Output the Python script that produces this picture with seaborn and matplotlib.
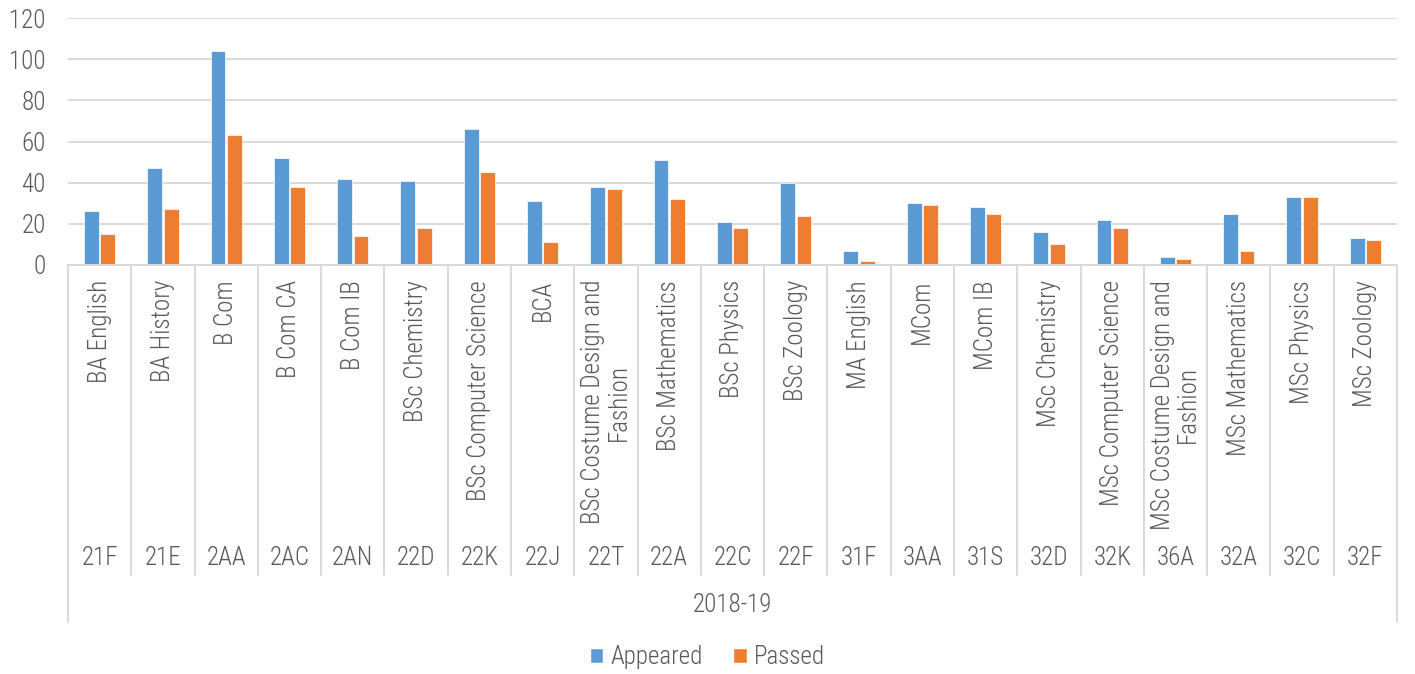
import pandas as pd
import seaborn as sns
import matplotlib.pyplot as plt
import matplotlib.transforms as mtransforms
from matplotlib import font_manager
from matplotlib.textpath import TextPath
from matplotlib.patches import Patch


courses = ['BA English', 'BA History', 'B Com', 'B Com CA', 'B Com IB',
           'BSc Chemistry', 'BSc Computer Science', 'BCA',
           'BSc Costume Design and\nFashion', 'BSc Mathematics', 'BSc Physics',
           'BSc Zoology', 'MA English', 'MCom', 'MCom IB', 'MSc Chemistry',
           'MSc Computer Science', 'MSc Costume Design and\nFashion',
           'MSc Mathematics', 'MSc Physics', 'MSc Zoology']
codes = ['21F', '21E', '2AA', '2AC', '2AN', '22D', '22K', '22J', '22T', '22A',
         '22C', '22F', '31F', '3AA', '31S', '32D', '32K', '36A', '32A', '32C', '32F']
appeared = [26, 47, 104, 52, 42, 41, 66, 31, 38, 51, 21, 40, 7, 30, 28, 16, 22, 4, 25, 33, 13]
passed = [15, 27, 63, 38, 14, 18, 45, 11, 37, 32, 18, 24, 2, 29, 25, 10, 18, 3, 7, 33, 12]
year = '2018-19'
series = ['Appeared', 'Passed']
colors = ['#5B9BD5', '#ED7D31']


def pick_font():
	# look for a narrow sans face, else plain Liberation Sans
	files = [f.fname for f in font_manager.fontManager.ttflist]
	for key in ['LiberationSansNarrow-Regular', 'RobotoCondensed-Light',
				'RobotoCondensed-Regular', 'DejaVuSansCondensed.', 'LiberationSans-Regular']:
		for f in files:
			if key.lower() in f.lower().replace('_', ''):
				return font_manager.FontProperties(fname=f)
	return font_manager.FontProperties(family='DejaVu Sans')


def data_prep():
	df = pd.DataFrame({'Course': courses, 'Appeared': appeared, 'Passed': passed})
	return df.melt(id_vars='Course', var_name='Series', value_name='Count')


def myplot():
	sns.set_style('white')
	fp = pick_font()
	# scale size so a long label has the reference length (~224 px)
	w = TextPath((0, 0), 'MSc Computer Science', size=18, prop=fp).get_extents().width
	fs = min(18, 18 * 224 / (w * 100 / 72))
	fp.set_size(fs)

	txt = '#595959'
	grid = '#D9D9D9'
	W, H = 1415, 674
	fig = plt.figure(figsize=(W / 100, H / 100), dpi=100)
	ax = fig.add_axes([68 / W, 1 - 265 / H, 1329 / W, 247 / H])

	mydata = data_prep()
	sns.barplot(data=mydata, x='Course', y='Count', hue='Series', order=courses,
				hue_order=series, palette=colors, saturation=1, width=0.52, gap=0.1,
				edgecolor='white', linewidth=0.5, legend=False, ax=ax)

	ax.set_ylim(0, 120)
	ax.set_xlim(-0.5, len(courses) - 0.5)
	ax.set_yticks(range(0, 121, 20))
	ax.yaxis.grid(True, color=grid, linewidth=1.4)
	ax.set_axisbelow(True)
	for s in ['top', 'right', 'left']:
		ax.spines[s].set_visible(False)
	ax.spines['bottom'].set_color(grid)
	ax.spines['bottom'].set_linewidth(1.4)
	ax.tick_params(axis='y', length=0, pad=16, labelcolor=txt)
	for lbl in ax.get_yticklabels():
		lbl.set_fontproperties(fp)
	ax.set_xticks([])
	ax.set_xlabel('')
	ax.set_ylabel('')

	# multi-level category axis below the plot
	tr = mtransforms.blended_transform_factory(ax.transData, fig.transFigure)
	fy = lambda px: 1 - px / H
	n = len(courses)
	for k in range(n + 1):
		bottom = 622 if k in (0, n) else 575
		ax.plot([k - 0.5, k - 0.5], [fy(265), fy(bottom)], color=grid, lw=1.4,
				transform=tr, clip_on=False)
	for i, (name, code) in enumerate(zip(courses, codes)):
		ax.text(i, fy(280), name, rotation=90, ha='center', va='top',
				multialignment='center', fontproperties=fp, color=txt,
				transform=tr, linespacing=1.05)
		ax.text(i, fy(558), code, ha='center', va='center', fontproperties=fp,
				color=txt, transform=tr)
	ax.text((n - 1) / 2, fy(605), year, ha='center', va='center',
			fontproperties=fp, color=txt, transform=tr)

	handles = [Patch(facecolor=c, label=l) for c, l in zip(colors, series)]
	fig.legend(handles=handles, loc='center', bbox_to_anchor=(0.5, fy(657)),
			   ncol=2, frameon=False, prop=fp, labelcolor=txt,
			   handlelength=0.55, handleheight=0.55, handletextpad=0.3,
			   columnspacing=1.2)

	plt.savefig('out.png', dpi=100)


myplot()
